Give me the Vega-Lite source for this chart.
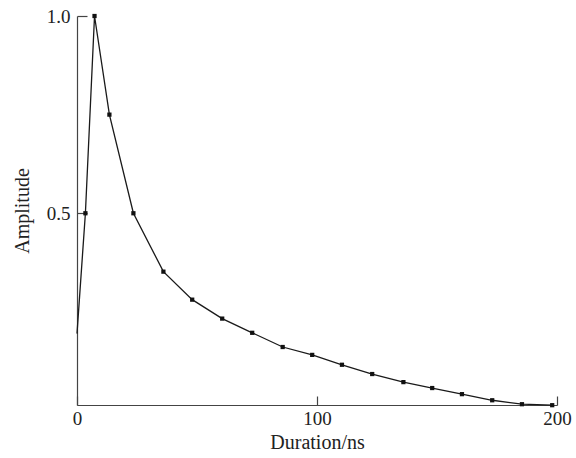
{
  "$schema": "https://vega.github.io/schema/vega-lite/v6.json",
  "autosize": "none",
  "width": 480,
  "height": 389,
  "padding": {"left": 77, "top": 16, "right": 19, "bottom": 53},
  "background": "white",
  "config": {
    "view": {"stroke": null},
    "font": "Liberation Serif",
    "axis": {
      "grid": false,
      "domainColor": "#444",
      "domainWidth": 1.2,
      "tickColor": "#444",
      "tickWidth": 1.2,
      "labelFont": "Liberation Serif",
      "titleFont": "Liberation Serif",
      "labelFontSize": 19,
      "titleFontSize": 20,
      "labelColor": "#222",
      "titleColor": "#222",
      "titleFontWeight": "normal",
      "labelFlush": false,
      "labelOverlap": false
    }
  },
  "data": {
    "values": [
      {"t": 0, "a": 0.195},
      {"t": 3.5, "a": 0.5},
      {"t": 7.3, "a": 1.0},
      {"t": 13.5, "a": 0.75},
      {"t": 23.5, "a": 0.5},
      {"t": 36, "a": 0.352},
      {"t": 48, "a": 0.281},
      {"t": 60.5, "a": 0.233},
      {"t": 73, "a": 0.197},
      {"t": 85.7, "a": 0.161},
      {"t": 98, "a": 0.141},
      {"t": 110.4, "a": 0.116},
      {"t": 123, "a": 0.0925},
      {"t": 136, "a": 0.072},
      {"t": 148, "a": 0.057},
      {"t": 160.4, "a": 0.0415},
      {"t": 173, "a": 0.026},
      {"t": 185.4, "a": 0.016},
      {"t": 198, "a": 0.0135}
    ]
  },
  "encoding": {
    "x": {
      "field": "t", "type": "quantitative",
      "scale": {"domain": [0, 200], "nice": false, "zero": false},
      "axis": {"values": [0, 100, 200], "tickSize": -9, "labelPadding": 13, "title": "Duration/ns", "titlePadding": 4}
    },
    "y": {
      "field": "a", "type": "quantitative",
      "scale": {"domain": [0.014, 1.0], "nice": false, "zero": false},
      "axis": {"values": [0.5, 1.0], "format": ".1f", "tickSize": -10, "labelPadding": 17, "title": "Amplitude", "titlePadding": 14}
    }
  },
  "layer": [
    {"mark": {"type": "line", "color": "#1a1a1a", "strokeWidth": 1.3}},
    {
      "transform": [{"filter": "datum.t > 0"}],
      "mark": {"type": "square", "color": "#111", "opacity": 1, "size": 18}
    }
  ]
}
